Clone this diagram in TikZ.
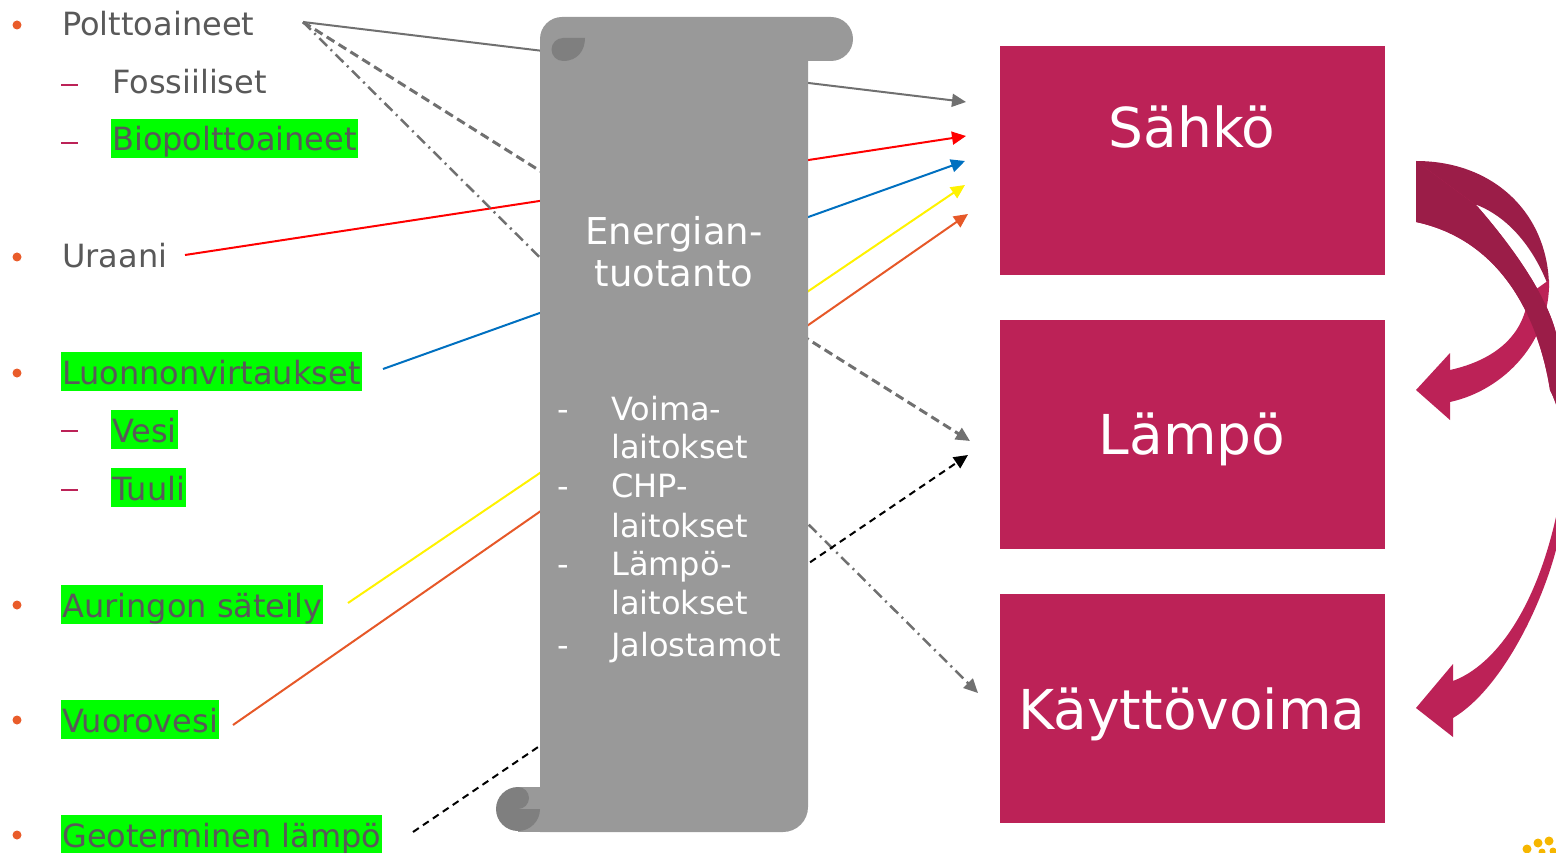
\documentclass[tikz,border=0pt]{standalone}
\usepackage{fontspec}
\setmainfont{DejaVu Sans}
\usetikzlibrary{arrows.meta}

\definecolor{txtgray}{RGB}{89,89,89}
\definecolor{hlgreen}{RGB}{0,255,0}
\definecolor{berry}{RGB}{188,34,87}
\definecolor{berrydark}{RGB}{155,29,72}
\definecolor{scrollgray}{RGB}{153,153,153}
\definecolor{curlgray}{RGB}{127,127,127}
\definecolor{linegray}{RGB}{112,112,112}
\definecolor{flowblue}{RGB}{0,112,192}
\definecolor{floworange}{RGB}{230,88,40}
\definecolor{dotorange}{RGB}{233,92,42}
\definecolor{logoyellow}{RGB}{246,182,0}

\newcommand{\longarrow}{(1416,161) -- (1477,206) .. controls (1505,238) and (1545,290) .. (1556,333)
  .. controls (1590,400) and (1592,490) .. (1556,550) .. controls (1540,610) and (1500,690) .. (1453,718)
  -- (1453,737) -- (1416,708) -- (1453,664) -- (1453,681)
  .. controls (1495,665) and (1535,610) .. (1556,517) .. controls (1568,460) and (1565,420) .. (1550,390)
  .. controls (1538,315) and (1500,240) .. (1416,222) -- cycle}

\begin{document}
\begin{tikzpicture}[x=1pt,y=-1pt]
\tikzstyle{lbl}=[anchor=base west,text=txtgray,inner sep=0pt,font=\fontsize{32}{38}\selectfont]
\tikzstyle{hl}=[lbl,fill=hlgreen,text height=32pt,text depth=7pt,inner xsep=1pt]
\tikzstyle{scrolltext}=[anchor=base,text=white,inner sep=0pt,font=\fontsize{37}{44}\selectfont]
\tikzstyle{unit}=[anchor=base west,text=white,inner sep=0pt,font=\fontsize{32}{38}\selectfont]
\tikzstyle{sbox}=[fill=berry,minimum width=385pt,minimum height=229pt,inner sep=0pt]
\tikzstyle{boxtext}=[anchor=base,text=white,inner sep=0pt,font=\fontsize{55}{66}\selectfont]
\tikzstyle{flow}=[line width=2pt,-{Triangle[length=14pt,width=13pt]}]
\useasboundingbox (0,0) rectangle (1556,853);

% sources
\node[lbl] (polt) at (62,36) {Polttoaineet};
\node[lbl] (foss) at (112,94) {Fossiiliset};
\node[hl] (bio) at (111,151) {Biopolttoaineet};
\node[lbl] (uraani) at (62,268) {Uraani};
\node[hl] (luonto) at (61,384) {Luonnonvirtaukset};
\node[hl] (vesi) at (111,442) {Vesi};
\node[hl] (tuuli) at (111,500) {Tuuli};
\node[hl] (aurinko) at (61,617) {Auringon säteily};
\node[hl] (vuoro) at (61,732) {Vuorovesi};
\node[hl] (geo) at (61,847) {Geoterminen lämpö};
\foreach \y in {25,257,373,605,720,835}
  \fill[dotorange] (17,\y) circle (4.5);
\foreach \y in {85,143,431,490}
  \draw[berry,line width=2pt] (61,\y) -- (78,\y);

% connector ends
\coordinate (polt-o) at (303,22);
\coordinate (uraani-o) at (185,255);
\coordinate (luonto-o) at (383,369);
\coordinate (aurinko-o) at (348,603);
\coordinate (vuoro-o) at (233,725);
\coordinate (geo-o) at (413,832);
\coordinate (s1) at (966,102);
\coordinate (s2) at (966,136);
\coordinate (s3) at (965,161);
\coordinate (s4) at (965,185);
\coordinate (s5) at (968,214);
\coordinate (l1) at (970,441);
\coordinate (l2) at (968,455);
\coordinate (k1) at (978,693);

\draw[flow,linegray] (polt-o) -- (s1);
\draw[flow,red] (uraani-o) -- (s2);
\draw[flow,flowblue] (luonto-o) -- (s3);
\draw[flow,yellow] (aurinko-o) -- (s4);
\draw[flow,floworange] (vuoro-o) -- (s5);
\draw[flow,linegray,line width=3pt,dash pattern=on 9pt off 5pt] (polt-o) -- (l1);
\draw[flow,linegray,line width=2.5pt,dash pattern=on 11pt off 5pt on 2pt off 5pt] (polt-o) -- (k1);
\draw[flow,black,dash pattern=on 7pt off 5pt] (geo-o) -- (l2);

% scroll
\fill[scrollgray,rounded corners=22pt] (540,17) rectangle (853,61);
\fill[scrollgray] (540,40) -- (808,40) [rounded corners=25pt] -- (808,832) [sharp corners] -- (540,832) -- cycle;
\fill[scrollgray] (518,787) rectangle (560,832);
\fill[curlgray] (585,38) -- (563,38) arc (270:90:11.5) .. controls (578,61) and (585,50) .. (585,38) -- cycle;
\fill[curlgray] (540,809) arc (0:270:22) arc (270:450:11) -- cycle;

\node[scrolltext] (energia) at (674,244) {Energian-};
\node[scrolltext] (tuotanto) at (674,287) {tuotanto};
\foreach \y/\t in {420/Voima-,458/laitokset,497/CHP-,537/laitokset,575/Lämpö-,614/laitokset,656/Jalostamot}
  \node[unit] at (611,\y) {\t};
\foreach \y in {420,497,575,656}
  \node[unit] at (557,\y) {-};

% outputs
\node[sbox] (sahko) at (1192.5,160.5) {};
\node[sbox] (lampo) at (1192.5,434) {};
\node[sbox] (kaytto) at (1192.5,708) {};
\node[boxtext] (sahko-t) at (1192,148) {Sähkö};
\node[boxtext] (lampo-t) at (1192,454) {Lämpö};
\node[boxtext] (kaytto-t) at (1192,729) {Käyttövoima};

% curved arrows
\fill[berrydark] (1416,161) .. controls (1495,161) and (1549,215) .. (1549,288)
  .. controls (1535,250) and (1510,218) .. (1477,205) -- (1416,205) -- cycle;
\fill[berry] (1549,280) .. controls (1551,340) and (1505,390) .. (1450,402) -- (1450,420) -- (1416,390)
  -- (1450,353) -- (1450,370) .. controls (1495,360) and (1525,335) .. (1528,295) -- cycle;
\fill[berry] \longarrow;
\begin{scope}
  \clip (1400,0) rectangle (1600,450);
  \fill[berrydark] \longarrow;
\end{scope}

% logo corner
\foreach \x/\y/\r in {1527/849/4.5,1538/843/4.5,1549/841/4.5,1542/852/3.5,1553/851/3.5}
  \fill[logoyellow] (\x,\y) circle (\r);
\end{tikzpicture}
\end{document}
